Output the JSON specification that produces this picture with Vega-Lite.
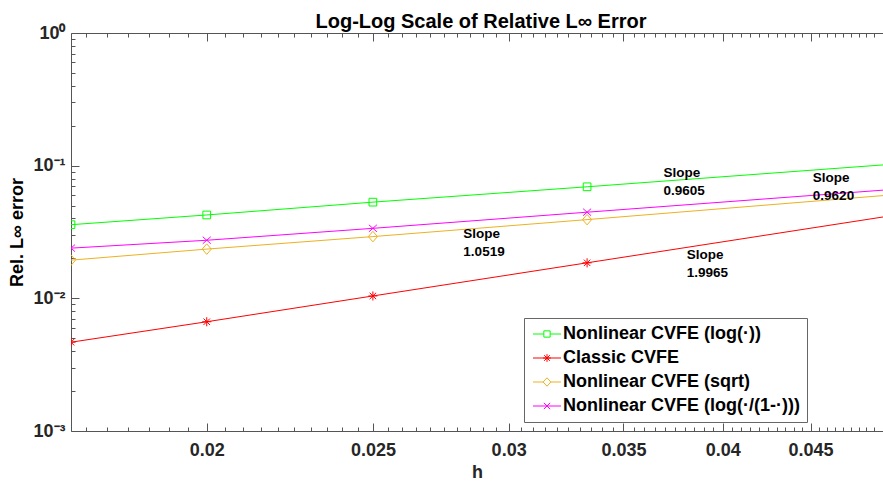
{
  "$schema": "https://vega.github.io/schema/vega-lite/v6.json",
  "width": 883,
  "height": 482,
  "autosize": {"type": "fit", "contains": "padding"},
  "padding": {"left": 8, "top": 12, "right": 0, "bottom": 1},
  "background": "white",
  "config": {"view": {"stroke": null}, "font": "Liberation Sans"},
  "title": {"text": "Log-Log Scale of Relative L∞ Error", "font": "Liberation Sans", "fontSize": 20, "fontWeight": "bold", "color": "#000000", "anchor": "middle", "baseline": "alphabetic", "offset": -24, "dx": 4},
  "resolve": {"axis": {"x": "independent"}},
  "datasets": {
    "series": [
      {"h": 0.0166667, "err": 0.0359, "method": "Nonlinear CVFE (log(·))"},
      {"h": 0.02, "err": 0.0425, "method": "Nonlinear CVFE (log(·))"},
      {"h": 0.025, "err": 0.0531, "method": "Nonlinear CVFE (log(·))"},
      {"h": 0.0333333, "err": 0.0693, "method": "Nonlinear CVFE (log(·))"},
      {"h": 0.05, "err": 0.1021, "method": "Nonlinear CVFE (log(·))"},
      {"h": 0.0166667, "err": 0.00467, "method": "Classic CVFE"},
      {"h": 0.02, "err": 0.00666, "method": "Classic CVFE"},
      {"h": 0.025, "err": 0.01042, "method": "Classic CVFE"},
      {"h": 0.0333333, "err": 0.01852, "method": "Classic CVFE"},
      {"h": 0.05, "err": 0.0417, "method": "Classic CVFE"},
      {"h": 0.0166667, "err": 0.0194, "method": "Nonlinear CVFE (sqrt)"},
      {"h": 0.02, "err": 0.0235, "method": "Nonlinear CVFE (sqrt)"},
      {"h": 0.025, "err": 0.0292, "method": "Nonlinear CVFE (sqrt)"},
      {"h": 0.0333333, "err": 0.0392, "method": "Nonlinear CVFE (sqrt)"},
      {"h": 0.05, "err": 0.06, "method": "Nonlinear CVFE (sqrt)"},
      {"h": 0.0166667, "err": 0.0239, "method": "Nonlinear CVFE (log(·/(1-·)))"},
      {"h": 0.02, "err": 0.0274, "method": "Nonlinear CVFE (log(·/(1-·)))"},
      {"h": 0.025, "err": 0.0337, "method": "Nonlinear CVFE (log(·/(1-·)))"},
      {"h": 0.0333333, "err": 0.0446, "method": "Nonlinear CVFE (log(·/(1-·)))"},
      {"h": 0.05, "err": 0.0659, "method": "Nonlinear CVFE (log(·/(1-·)))"}
    ],
    "labels": [
      {"h": 0.03694, "err": 0.1, "label": "Slope\n0.9605"},
      {"h": 0.04514, "err": 0.0912, "label": "Slope\n0.9620"},
      {"h": 0.02823, "err": 0.0345, "label": "Slope\n1.0519"},
      {"h": 0.03811, "err": 0.0239, "label": "Slope\n1.9965"}
    ]
  },
  "layer": [
    {
      "data": {"name": "series"},
      "mark": {"type": "line", "clip": true, "strokeWidth": 1},
      "encoding": {
        "x": {
          "field": "h", "type": "quantitative",
          "scale": {"type": "log", "domain": [0.0166667, 0.0496], "nice": false, "zero": false},
          "axis": {
            "orient": "bottom", "title": "h", "grid": false,
            "values": [0.017,0.0175,0.018,0.0185,0.019,0.0195,0.02,0.0205,0.021,0.0215,0.022,0.0225,0.023,0.0235,0.024,0.0245,0.025,0.0255,0.026,0.0265,0.027,0.0275,0.028,0.0285,0.029,0.0295,0.03,0.0305,0.031,0.0315,0.032,0.0325,0.033,0.0335,0.034,0.0345,0.035,0.0355,0.036,0.0365,0.037,0.0375,0.038,0.0385,0.039,0.0395,0.04,0.0405,0.041,0.0415,0.042,0.0425,0.043,0.0435,0.044,0.0445,0.045,0.0455,0.046,0.0465,0.047,0.0475,0.048,0.0485,0.049],
            "labelExpr": "abs(datum.value*200 - round(datum.value*200)) < 1e-6 ? format(datum.value, '.3~f') : ''",
            "tickSize": 0,
            "encoding": {"ticks": {"y2": {"condition": {"test": "abs(datum.value*200 - round(datum.value*200)) < 1e-6", "value": -8}, "value": -4}}},
            "labelPadding": 10,
            "labelOverlap": false, "labelFlush": false, "labelBound": false,
            "labelFont": "Liberation Sans", "labelFontSize": 18, "labelFontWeight": "bold", "labelColor": "#262626",
            "domainColor": "#555555", "tickColor": "#555555", "domainWidth": 1, "tickWidth": 1,
            "titleFont": "Liberation Sans", "titleFontSize": 18, "titleFontWeight": "bold", "titleColor": "#262626", "titlePadding": 4
          }
        },
        "y": {
          "field": "err", "type": "quantitative",
          "scale": {"type": "log", "domain": [0.001, 1], "nice": false, "zero": false},
          "axis": {
            "orient": "left", "title": "Rel. L∞ error", "grid": false,
            "values": [0.001,0.002,0.003,0.004,0.005,0.006,0.007,0.008,0.009,0.01,0.02,0.03,0.04,0.05,0.06,0.07,0.08,0.09,0.1,0.2,0.3,0.4,0.5,0.6,0.7,0.8,0.9,1],
            "labelExpr": "datum.value == 1 ? '10⁰' : datum.value == 0.1 ? '10⁻¹' : datum.value == 0.01 ? '10⁻²' : datum.value == 0.001 ? '10⁻³' : ''",
            "tickSize": 0,
            "encoding": {"ticks": {"x2": {"condition": {"test": "datum.value == 1 || datum.value == 0.1 || datum.value == 0.01 || datum.value == 0.001", "value": 8}, "value": 4}}},
            "labelPadding": 6,
            "labelOverlap": false, "labelFlush": false, "labelBound": false,
            "labelFont": "Liberation Sans", "labelFontSize": 18, "labelFontWeight": "bold", "labelColor": "#262626",
            "domainColor": "#555555", "tickColor": "#555555", "domainWidth": 1, "tickWidth": 1,
            "titleFont": "Liberation Sans", "titleFontSize": 18, "titleFontWeight": "bold", "titleColor": "#000000", "titlePadding": 6
          }
        },
        "color": {
          "field": "method", "type": "nominal",
          "scale": {"domain": ["Nonlinear CVFE (log(·))", "Classic CVFE", "Nonlinear CVFE (sqrt)", "Nonlinear CVFE (log(·/(1-·)))"], "range": ["#00ff00", "#ff0000", "#edb120", "#ff00ff"]},
          "legend": {
            "orient": "none", "legendX": 453, "legendY": 285, "title": null,
            "strokeColor": "#666666", "fillColor": "white", "padding": 7, "rowPadding": 6,
            "labelFont": "Liberation Sans", "labelFontSize": 18, "labelFontWeight": "bold", "labelColor": "#000000", "labelLimit": 500,
            "symbolSize": 196, "symbolStrokeWidth": 1, "symbolOffset": 7, "labelOffset": 7,
            "encoding": {"symbols": {
              "shape": {"condition": [
                {"test": "datum.value === 'Classic CVFE'", "value": "M-2,0H2M-0.55,0H0.55M0,-0.55V0.55M-0.4,-0.4L0.4,0.4M-0.4,0.4L0.4,-0.4"},
                {"test": "datum.value === 'Nonlinear CVFE (sqrt)'", "value": "M-2,0H-0.55M0.55,0H2M0,-0.6L0.55,0L0,0.6L-0.55,0Z"},
                {"test": "datum.value === 'Nonlinear CVFE (log(·/(1-·)))'", "value": "M-2,0H2M-0.45,-0.45L0.45,0.45M-0.45,0.45L0.45,-0.45"}
              ], "value": "M-2,0H-0.45M0.45,0H2M-0.45,-0.45H0.45V0.45H-0.45Z"},
              "fill": {"value": "transparent"},
              "strokeWidth": {"value": 1}
            }}
          }
        }
      }
    },
    {
      "data": {"name": "series"},
      "transform": [{"filter": "datum.method === 'Nonlinear CVFE (log(·))'"}],
      "mark": {"type": "point", "clip": true, "filled": false, "size": 196, "strokeWidth": 1, "opacity": 1, "shape": "M-0.55,-0.55H0.55V0.55H-0.55Z"},
      "encoding": {
        "x": {
          "field": "h", "type": "quantitative",
          "axis": {
            "orient": "top", "title": null, "labels": false, "grid": false,
            "values": [0.017,0.0175,0.018,0.0185,0.019,0.0195,0.02,0.0205,0.021,0.0215,0.022,0.0225,0.023,0.0235,0.024,0.0245,0.025,0.0255,0.026,0.0265,0.027,0.0275,0.028,0.0285,0.029,0.0295,0.03,0.0305,0.031,0.0315,0.032,0.0325,0.033,0.0335,0.034,0.0345,0.035,0.0355,0.036,0.0365,0.037,0.0375,0.038,0.0385,0.039,0.0395,0.04,0.0405,0.041,0.0415,0.042,0.0425,0.043,0.0435,0.044,0.0445,0.045,0.0455,0.046,0.0465,0.047,0.0475,0.048,0.0485,0.049],
            "tickSize": 0,
            "encoding": {"ticks": {"y2": {"condition": {"test": "abs(datum.value*200 - round(datum.value*200)) < 1e-6", "value": 8}, "value": 4}}},
            "domainColor": "#555555", "tickColor": "#555555", "domainWidth": 1, "tickWidth": 1
          }
        },
        "y": {"field": "err", "type": "quantitative"},
        "color": {"field": "method", "type": "nominal"}
      }
    },
    {
      "data": {"name": "series"},
      "transform": [{"filter": "datum.method === 'Classic CVFE'"}],
      "mark": {"type": "point", "clip": true, "filled": false, "size": 196, "strokeWidth": 1, "opacity": 1, "shape": "M-0.65,0H0.65M0,-0.65V0.65M-0.46,-0.46L0.46,0.46M-0.46,0.46L0.46,-0.46"},
      "encoding": {
        "x": {"field": "h", "type": "quantitative", "axis": null},
        "y": {"field": "err", "type": "quantitative"},
        "color": {"field": "method", "type": "nominal"}
      }
    },
    {
      "data": {"name": "series"},
      "transform": [{"filter": "datum.method === 'Nonlinear CVFE (sqrt)'"}],
      "mark": {"type": "point", "clip": true, "filled": false, "size": 196, "strokeWidth": 1, "opacity": 1, "shape": "M0,-0.75L0.65,0L0,0.75L-0.65,0Z"},
      "encoding": {
        "x": {"field": "h", "type": "quantitative", "axis": null},
        "y": {"field": "err", "type": "quantitative"},
        "color": {"field": "method", "type": "nominal"}
      }
    },
    {
      "data": {"name": "series"},
      "transform": [{"filter": "datum.method === 'Nonlinear CVFE (log(·/(1-·)))'"}],
      "mark": {"type": "point", "clip": true, "filled": false, "size": 196, "strokeWidth": 1, "opacity": 1, "shape": "M-0.57,-0.5L0.57,0.5M-0.57,0.5L0.57,-0.5"},
      "encoding": {
        "x": {"field": "h", "type": "quantitative", "axis": null},
        "y": {"field": "err", "type": "quantitative"},
        "color": {"field": "method", "type": "nominal"}
      }
    },
    {
      "data": {"name": "labels"},
      "mark": {"type": "text", "align": "left", "baseline": "top", "lineBreak": "\n", "lineHeight": 18, "font": "Liberation Sans", "fontSize": 13.5, "fontWeight": "bold", "color": "#000000"},
      "encoding": {
        "x": {"field": "h", "type": "quantitative", "axis": null},
        "y": {"field": "err", "type": "quantitative"},
        "text": {"field": "label"}
      }
    }
  ]
}
